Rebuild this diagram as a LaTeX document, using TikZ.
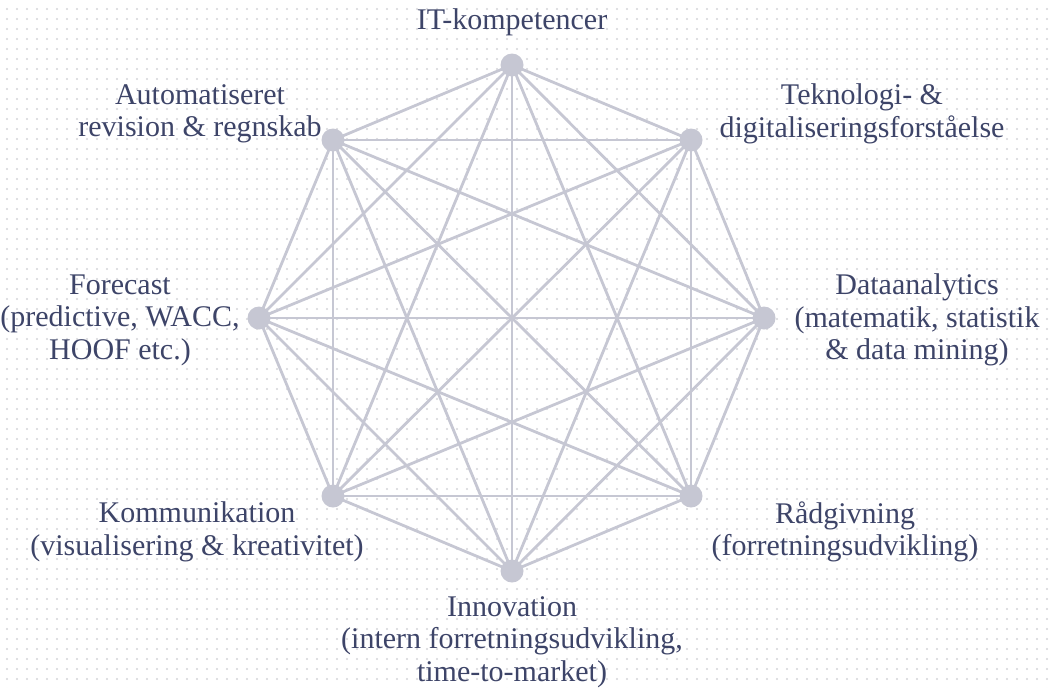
\documentclass[tikz,border=0pt]{standalone}
\usepackage{fontspec}
\setmainfont{Liberation Serif}
\usetikzlibrary{backgrounds}
\definecolor{inkblue}{HTML}{3D4468}
\definecolor{edgegrey}{HTML}{C6C7D3}
\definecolor{dotgrey}{HTML}{D4D4D8}
\tikzset{
  kompetence/.style={circle,fill=edgegrey,inner sep=0pt,minimum size=11.5pt},
  kanttekst/.style={text=inkblue,align=center,font=\fontsize{15}{16.2}\selectfont},
  forbindelse/.style={edgegrey,line width=1.4pt}
}

\begin{document}
\begin{tikzpicture}[x=0.5pt,y=-0.5pt]
\useasboundingbox (0,0) rectangle (1049,687);

% de otte kompetencer
\node[kompetence] (v1) at (512,65) {};
\node[kompetence] (v2) at (691,140) {};
\node[kompetence] (v3) at (764,318) {};
\node[kompetence] (v4) at (691,496) {};
\node[kompetence] (v5) at (512,571) {};
\node[kompetence] (v6) at (333,496) {};
\node[kompetence] (v7) at (259,318) {};
\node[kompetence] (v8) at (333,140) {};

\node[kanttekst] (it) at (512,22) {IT-kompetencer};
\node[kanttekst] (tek) at (862,114) {Teknologi- \&\\digitaliseringsforståelse};
\node[kanttekst] (data) at (917,320) {Dataanalytics\\(matematik, statistik\\\& data mining)};
\node[kanttekst] (raad) at (845,532) {Rådgivning\\(forretningsudvikling)};
\node[kanttekst] (innov) at (512,642) {Innovation\\(intern forretningsudvikling,\\time-to-market)};
\node[kanttekst] (komm) at (197,532) {Kommunikation\\(visualisering \& kreativitet)};
\node[kanttekst] (fore) at (120,320) {Forecast\\(predictive, WACC,\\HOOF etc.)};
\node[kanttekst] (auto) at (200,114) {Automatiseret\\revision \& regnskab};

\begin{pgfonlayer}{background}
  % prikket baggrund
  \foreach \i in {0,...,104}
    \foreach \j in {0,...,68}
      \fill[dotgrey] (7+10*\i,9+10*\j) circle (0.6pt);
  % alle forbindelser
  \foreach \a in {1,...,7}{
    \pgfmathtruncatemacro\naeste{\a+1}
    \foreach \b in {\naeste,...,8}
      \draw[forbindelse] (v\a.center) -- (v\b.center);
  }
\end{pgfonlayer}

\end{tikzpicture}
\end{document}
